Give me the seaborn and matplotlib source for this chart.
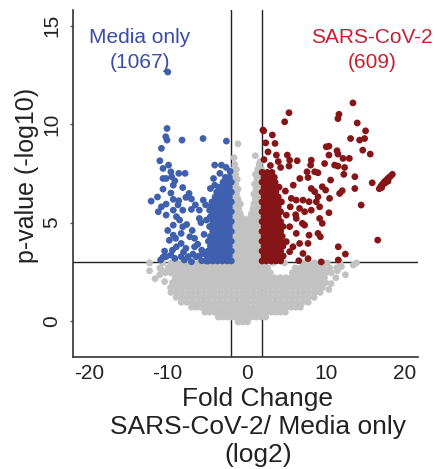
import matplotlib
matplotlib.use("Agg")
import matplotlib.pyplot as plt
import numpy as np
import pandas as pd
import seaborn as sns

# ---------------------------------------------------------------
# Volcano plot data: log2 fold change (x) and -log10 p-value (y)
# ---------------------------------------------------------------

# thresholds
fc_cut = 2.0
p_cut = 3.0

# group labels and counts
group_names = ["Media only", "SARS-CoV-2"]
group_counts = [1067, 609]

# significant genes higher in Media only (scattered part)
media_pts = [
    (-10.0, 12.65), (-10.09, 9.78), (-10.25, 9.36), (-10.09, 9.19), (-8.19, 9.19),
    (-5.53, 9.27), (-2.57, 9.14), (-10.8, 8.77), (-11.0, 8.14), (-10.6, 7.75),
    (-9.9, 7.92), (-9.6, 7.58), (-8.6, 7.5), (-7.8, 7.5), (-10.6, 7.24),
    (-10.2, 7.24), (-9.5, 7.33), (-9.1, 7.12), (-9.3, 6.9), (-10.6, 6.7),
    (-8.1, 6.78), (-7.3, 6.48), (-7.7, 6.28), (-9.3, 6.18), (-8.6, 6.11),
    (-10.2, 5.94), (-10.8, 5.80), (-12.1, 6.09), (-11.2, 5.55), (-10.2, 5.38),
    (-9.3, 5.63), (-8.9, 5.3), (-8.1, 5.63), (-7.0, 5.67), (-8.5, 5.13),
    (-9.3, 4.87), (-8.1, 4.79), (-6.0, 5.63), (-6.0, 5.21), (-5.1, 5.13),
    (-5.5, 6.14), (-4.7, 5.63), (-9.3, 4.36), (-8.3, 4.45), (-7.2, 4.28),
    (-6.6, 4.2), (-8.9, 3.77), (-8.3, 3.94), (-7.7, 3.69), (-6.6, 3.77),
    (-5.7, 3.6), (-10.2, 3.27), (-9.6, 3.35), (-9.1, 3.18), (-8.3, 3.27),
    (-7.4, 3.27), (-10.6, 3.24), (-7.0, 3.01), (-5.7, 3.06), (-6.4, 3.27),
    (-4.05, 7.92), (-3.2, 7.92), (-4.2, 7.24), (-3.4, 7.5), (-4.6, 6.73),
    (-4.05, 6.9), (-2.1, 7.6), (-2.6, 7.8), (-7.6, 4.9), (-6.9, 4.6),
    (-6.2, 3.9), (-5.4, 4.4), (-5.8, 5.0), (-6.5, 5.9), (-7.0, 6.2),
    (-9.8, 4.1), (-10.0, 4.6), (-9.0, 4.2), (-8.7, 5.9), (-9.6, 6.5),
    (-11.3, 6.3), (-5.3, 3.4), (-6.8, 3.4), (-8.0, 3.5), (-9.4, 3.6),
    (-10.4, 3.55), (-10.9, 3.1), (-7.9, 3.1), (-6.0, 3.3), (-5.2, 5.9),
]

# significant genes higher in Media only (dense band next to the cut-off)
media_rows = [
    (3.05, [-1.95, -2.5, -3.1, -3.7, -4.3, -4.9, -5.1]),
    (3.3, [-2.2, -2.8, -3.4, -4.0, -4.6, -5.0]),
    (3.55, [-1.95, -2.5, -3.1, -3.7, -4.3, -4.9]),
    (3.8, [-2.2, -2.8, -3.4, -4.0, -4.6]),
    (4.05, [-1.95, -2.5, -3.1, -3.7, -4.3, -4.85]),
    (4.3, [-2.2, -2.8, -3.4, -4.0, -4.6]),
    (4.55, [-1.95, -2.5, -3.1, -3.7, -4.3]),
    (4.8, [-2.2, -2.8, -3.4, -4.0, -4.7]),
    (5.05, [-1.95, -2.5, -3.1, -3.7, -4.3]),
    (5.3, [-2.2, -2.8, -3.4, -4.0, -4.6]),
    (5.55, [-1.95, -2.5, -3.1, -3.7, -4.3]),
    (5.8, [-2.2, -2.8, -3.4, -4.0, -4.5]),
    (6.05, [-1.95, -2.5, -3.1, -3.7, -4.4]),
    (6.3, [-2.2, -2.8, -3.4, -4.0]),
    (6.55, [-1.95, -2.5, -3.1, -3.8]),
    (6.8, [-2.2, -2.8, -3.5]),
    (7.05, [-1.95, -2.5, -3.0]),
    (7.3, [-2.2, -2.7]),
]

# significant genes higher in SARS-CoV-2 (scattered part)
sars_pts = [
    (13.46, 11.08), (5.36, 10.58), (4.81, 10.12), (11.69, 10.5), (11.56, 10.28),
    (14.0, 10.06), (15.06, 9.66), (14.94, 9.27), (14.3, 9.19), (13.16, 9.27),
    (14.7, 8.68), (15.65, 8.48), (2.15, 9.66), (3.25, 9.45), (2.41, 9.05),
    (3.59, 9.02), (2.06, 9.7), (10.08, 8.85), (10.42, 8.88), (11.44, 8.65),
    (11.56, 8.48), (10.42, 8.43), (12.2, 8.26), (13.0, 8.26), (2.7, 8.59),
    (3.76, 8.43), (5.15, 8.43), (6.4, 8.14), (8.18, 8.17), (8.1, 7.92),
    (5.44, 8.17), (9.87, 8.0), (11.14, 7.92), (11.56, 7.87), (12.4, 7.8),
    (7.64, 7.58), (8.61, 7.58), (9.03, 7.53), (5.36, 7.87), (6.73, 7.24),
    (7.77, 7.29), (10.63, 7.16), (12.3, 7.45), (13.7, 7.33), (15.9, 7.02),
    (16.8, 6.72), (17.0, 6.85), (17.2, 6.95), (17.4, 7.05), (17.6, 7.12),
    (17.8, 7.2), (18.0, 7.28), (18.2, 7.35), (18.45, 7.45), (17.1, 6.78),
    (17.5, 7.0), (17.9, 7.1), (13.7, 6.73), (12.1, 6.62), (11.77, 6.48),
    (10.0, 6.65), (9.57, 6.82), (10.5, 6.23), (8.18, 6.73), (8.61, 6.57),
    (9.03, 6.31), (5.65, 6.23), (6.28, 6.14), (7.13, 6.14), (7.9, 6.06),
    (8.82, 6.06), (5.52, 5.8), (6.7, 5.72), (7.34, 5.55), (8.18, 5.63),
    (9.24, 5.8), (10.42, 5.5), (14.5, 5.89), (5.02, 5.38), (6.28, 5.21),
    (7.05, 4.96), (9.24, 5.21), (9.57, 4.96), (5.44, 4.79), (7.34, 4.87),
    (6.28, 4.45), (7.9, 4.36), (9.03, 4.45), (9.33, 4.28), (16.6, 4.11),
    (5.02, 4.03), (5.86, 3.77), (6.7, 3.94), (7.77, 3.94), (11.6, 3.77),
    (12.5, 3.4), (5.44, 3.52), (7.13, 3.43), (7.77, 3.17), (9.45, 3.0),
    (11.6, 3.1), (6.6, 3.06), (4.6, 3.3), (2.2, 8.2), (3.0, 7.9),
    (4.3, 7.8), (4.0, 8.1), (5.9, 6.9), (6.2, 5.4), (4.9, 6.6),
]

# significant genes higher in SARS-CoV-2 (dense band next to the cut-off)
sars_rows = [
    (3.05, [1.95, 2.5, 3.1, 3.7, 4.3]),
    (3.3, [2.2, 2.8, 3.4, 4.0, 4.6]),
    (3.55, [1.95, 2.5, 3.1, 3.7, 4.3]),
    (3.8, [2.2, 2.8, 3.4, 4.0, 4.6]),
    (4.05, [1.95, 2.5, 3.1, 3.7, 4.3]),
    (4.3, [2.2, 2.8, 3.4, 4.0, 4.5]),
    (4.55, [1.95, 2.5, 3.1, 3.7, 4.3]),
    (4.8, [2.2, 2.8, 3.4, 4.0, 4.6]),
    (5.05, [1.95, 2.5, 3.1, 3.7, 4.3]),
    (5.3, [2.2, 2.8, 3.4, 4.0]),
    (5.55, [1.95, 2.5, 3.1, 3.7, 4.3]),
    (5.8, [2.2, 2.8, 3.4, 4.0]),
    (6.05, [1.95, 2.5, 3.1, 3.7, 4.4]),
    (6.3, [2.2, 2.8, 3.4, 4.0]),
    (6.55, [1.95, 2.5, 3.1, 3.7]),
    (6.8, [2.2, 2.8, 3.4, 4.1]),
    (7.05, [1.95, 2.5, 3.1, 3.6]),
    (7.3, [2.2, 2.8, 3.5]),
    (7.55, [1.95, 2.6, 3.2]),
]

# non-significant genes
ns_rows = [
    (-0.05, [-1.1, -0.5, 0.1]),
    (0.2, [-3.6, -3.0, -2.4, -1.8, -1.2, -0.6, 0.0, 0.6, 1.2, 1.8, 2.4]),
    (0.45, [-5.3, -4.7, -4.1, -3.5, -2.9, -2.3, -1.7, -1.1, -0.5, 0.1, 0.7,
            1.3, 1.9, 2.5, 3.1, 3.7, 4.3, 4.9]),
    (0.7, [-7.0, -6.4, -5.8, -5.2, -4.6, -4.0, -3.4, -2.8, -2.2, -1.6, -1.0,
           -0.4, 0.2, 0.8, 1.4, 2.0, 2.6, 3.2, 3.8, 4.4, 5.0, 5.6, 6.2, 6.8]),
    (0.95, [-8.3, -7.6, -6.9, -6.2, -5.5, -4.8, -4.1, -3.4, -2.7, -2.0, -1.3,
            -0.6, 0.1, 0.8, 1.5, 2.2, 2.9, 3.6, 4.3, 5.0, 5.7, 6.4, 7.1, 7.8]),
    (1.2, [-8.95, -8.25, -7.55, -6.85, -6.15, -5.45, -4.75, -4.05, -3.35,
           -2.65, -1.95, -1.25, -0.55, 0.15, 0.85, 1.55, 2.25, 2.95, 3.65,
           4.35, 5.05, 5.75, 6.45, 7.15, 7.85, 8.55]),
    (1.45, [-9.6, -8.9, -8.2, -7.5, -6.8, -6.1, -5.4, -4.7, -4.0, -3.3, -2.6,
            -1.9, -1.2, -0.5, 0.2, 0.9, 1.6, 2.3, 3.0, 3.7, 4.4, 5.1, 5.8,
            6.5, 7.2, 7.9, 8.6, 9.3]),
    (1.7, [-9.65, -8.95, -8.25, -7.55, -6.85, -6.15, -5.45, -4.75, -4.05,
           -3.35, -2.65, -1.95, -1.25, -0.55, 0.15, 0.85, 1.55, 2.25, 2.95,
           3.65, 4.35, 5.05, 5.75, 6.45, 7.15, 7.85, 8.55, 9.25, 9.6]),
    (1.95, [-9.4, -8.7, -8.0, -7.3, -6.6, -5.9, -5.2, -4.5, -3.8, -3.1, -2.4,
            -1.7, -1.0, -0.3, 0.4, 1.1, 1.8, 2.5, 3.2, 3.9, 4.6, 5.3, 6.0,
            6.7, 7.4, 8.1, 8.8, 9.5, 10.0]),
    (2.2, [-9.05, -8.35, -7.65, -6.95, -6.25, -5.55, -4.85, -4.15, -3.45,
           -2.75, -2.05, -1.35, -0.65, 0.05, 0.75, 1.45, 2.15, 2.85, 3.55,
           4.25, 4.95, 5.65, 6.35, 7.05, 7.75, 8.45, 9.15, 9.85]),
    (2.45, [-10.3, -9.6, -8.9, -8.2, -7.5, -6.8, -6.1, -5.4, -4.7, -4.0, -3.3,
            -2.6, -1.9, -1.2, -0.5, 0.2, 0.9, 1.6, 2.3, 3.0, 5.8, 6.5, 7.2,
            7.9, 8.6, 9.3, 10.0, 10.7]),
    (2.7, [-11.0, -9.95, -9.25, -8.55, -7.85, -7.15, -6.45, -5.75, -5.05,
           -4.35, -3.65, -2.95, -2.25, -1.55, -0.85, -0.15, 0.55, 1.25, 1.95,
           2.65, 6.15, 6.85, 7.55, 8.25, 8.95, 9.65, 10.5, 11.4]),
    (2.95, [-12.3, -10.6, -9.6, -8.9, -8.2, -7.5, -6.8, -6.1, -5.4, -4.7,
            -4.0, -3.3, -2.6, -1.9, -1.2, -0.5, 0.2, 0.9, 1.6, 2.3, 3.3, 4.8,
            7.2, 7.9, 8.6, 9.3, 10.2, 11.8, 13.9]),
    (3.2, [-1.6, -1.0, -0.4, 0.2, 0.8, 1.4]),
    (3.45, [-1.9, -1.3, -0.7, -0.1, 0.5, 1.1, 1.7]),
    (3.7, [-1.6, -1.0, -0.4, 0.2, 0.8, 1.4]),
    (3.95, [-1.9, -1.3, -0.7, -0.1, 0.5, 1.1, 1.7]),
    (4.2, [-1.6, -1.0, -0.4, 0.2, 0.8, 1.4]),
    (4.45, [-1.9, -1.3, -0.7, -0.1, 0.5, 1.1, 1.7]),
    (4.7, [-1.6, -1.0, -0.4, 0.2, 0.8, 1.4]),
    (4.95, [-1.9, -1.3, -0.7, -0.1, 0.5, 1.1, 1.7]),
    (5.2, [-1.6, -1.0, -0.4, 0.3, 0.9, 1.5]),
    (5.45, [-1.9, -1.3, -0.8, 0.6, 1.1, 1.7]),
    (5.7, [-1.6, -1.0, 0.8, 1.4]),
    (5.95, [-1.9, -1.3, -0.8, 0.9, 1.6]),
    (6.2, [-1.6, -1.1, 1.1, 1.8]),
    (6.45, [-1.9, -1.3, 0.9, 1.5]),
    (6.7, [-1.6, -1.1, 1.2, 1.8]),
    (6.95, [-1.9, -1.4, 1.0, 1.6]),
    (7.2, [-1.6, -1.2, 1.3, 1.8]),
    (7.45, [-1.9, -1.4, 1.1, 1.6]),
    (7.7, [-1.7, -1.3, 1.4, 1.9]),
    (7.95, [-1.5, 1.6]),
]

ns_pts = [
    (-1.1, 9.0), (1.1, 8.4), (-1.6, 8.3), (1.7, 8.1),
    (-12.3, 2.55), (-11.6, 2.15), (-11.0, 2.35), (-10.4, 2.0), (-10.8, 2.6),
    (12.0, 2.76), (13.5, 2.84), (12.5, 2.35), (11.3, 2.2), (10.7, 1.9),
    (11.5, 2.55), (10.4, 1.6),
]

# tick values
x_ticks = [-20, -10, 0, 10, 20]
y_ticks = [0, 5, 10, 15]


def rows_to_xy(rows):
    xs, ys = [], []
    for yv, xrow in rows:
        xs.extend(xrow)
        ys.extend([yv] * len(xrow))
    return xs, ys


def pts_to_xy(pts):
    return [p[0] for p in pts], [p[1] for p in pts]


frames = []
for label, pts, rows in [
    ("ns", ns_pts, ns_rows),
    (group_names[0], media_pts, media_rows),
    (group_names[1], sars_pts, sars_rows),
]:
    x1, y1 = rows_to_xy(rows)
    x2, y2 = pts_to_xy(pts)
    frames.append(pd.DataFrame({"log2fc": x1 + x2, "nlog10p": y1 + y2, "group": label}))
df = pd.concat(frames, ignore_index=True)

# ---------------------------------------------------------------
# Figure
# ---------------------------------------------------------------
sns.set_theme(style="white")
plt.rcParams["font.family"] = ["Liberation Sans", "DejaVu Sans"]
plt.rcParams["axes.unicode_minus"] = False

fig = plt.figure(figsize=(4.39, 4.69), dpi=100)
ax = fig.add_axes([73 / 439, 1 - 357 / 469, 345 / 439, 347 / 469])

col_ns = "#C2C2C2"
col_media = "#3F60AE"
col_sars = "#861518"

ax.axvline(-fc_cut, color="#222222", lw=1.0, zorder=1)
ax.axvline(fc_cut, color="#222222", lw=1.0, zorder=1)
ax.axhline(p_cut, color="#222222", lw=1.0, zorder=1)

sns.scatterplot(
    data=df, x="log2fc", y="nlog10p", hue="group",
    hue_order=["ns", group_names[0], group_names[1]],
    palette={"ns": col_ns, group_names[0]: col_media, group_names[1]: col_sars},
    s=24, linewidth=0, legend=False, ax=ax, zorder=2,
)

ax.set_xlim(-22.0, 21.7)
ax.set_ylim(-1.83, 15.8)
ax.set_xticks(x_ticks)
ax.set_yticks(y_ticks)
ax.tick_params(axis="x", length=0, pad=5, labelsize=15, labelcolor="#222222")
ax.tick_params(axis="y", length=2.5, width=1, color="#555555", pad=6,
               labelsize=15, labelcolor="#222222", labelrotation=90, left=True)
for lab in ax.get_yticklabels():
    lab.set_va("center")
for side in ["top", "right"]:
    ax.spines[side].set_visible(False)
for side in ["left", "bottom"]:
    ax.spines[side].set_color("#333333")
    ax.spines[side].set_linewidth(1.2)
ax.set_xlabel("")
ax.set_ylabel("")

# group annotations
ax.text(-13.5, 14.4, group_names[0], color="#3A4DA6", fontsize=15,
        ha="center", va="center")
ax.text(-13.5, 13.15, f"({group_counts[0]})", color="#3A4DA6", fontsize=15,
        ha="center", va="center")
ax.text(15.9, 14.4, group_names[1], color="#C62032", fontsize=15,
        ha="center", va="center")
ax.text(15.9, 13.15, f"({group_counts[1]})", color="#C62032", fontsize=15,
        ha="center", va="center")

# axis titles
fig.text(258 / 439, 1 - 427 / 469, "Fold Change\nSARS-CoV-2/ Media only\n(log2)",
         ha="center", va="center", fontsize=19, color="#222222", linespacing=1.2)
fig.text(27 / 439, 1 - 175 / 469, "p-value (-log10)", rotation=90,
         ha="center", va="center", fontsize=18, color="#222222")

fig.savefig("out.png", dpi=100)
